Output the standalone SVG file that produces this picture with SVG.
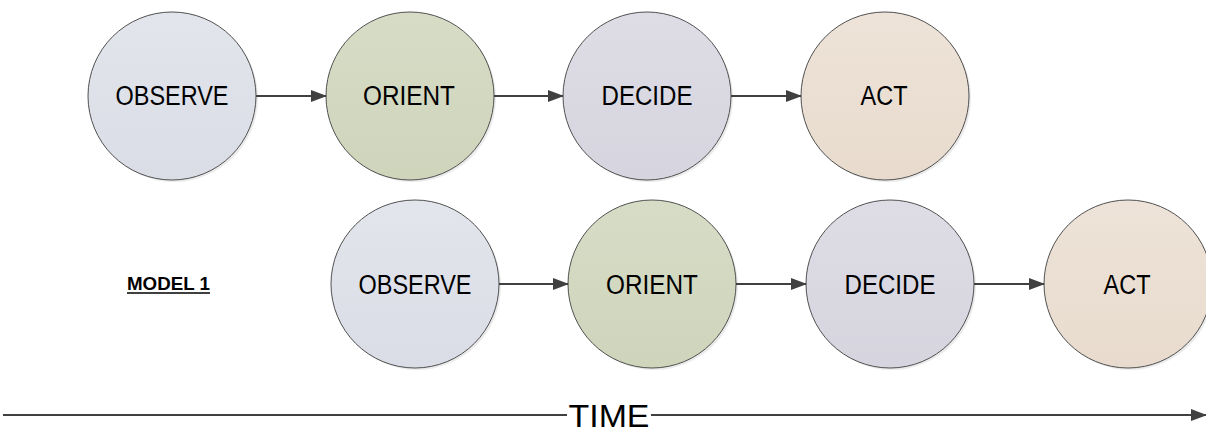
<svg xmlns="http://www.w3.org/2000/svg" width="1206" height="430" viewBox="0 0 1206 430">
  <defs>
    <linearGradient id="gObs" x1="0" y1="0" x2="0" y2="1">
      <stop offset="0" stop-color="#e3e5ec"/>
      <stop offset="1" stop-color="#dadde6"/>
    </linearGradient>
    <linearGradient id="gOri" x1="0" y1="0" x2="0" y2="1">
      <stop offset="0" stop-color="#d7dcc6"/>
      <stop offset="1" stop-color="#cfd5bb"/>
    </linearGradient>
    <linearGradient id="gDec" x1="0" y1="0" x2="0" y2="1">
      <stop offset="0" stop-color="#dedde6"/>
      <stop offset="1" stop-color="#d6d5df"/>
    </linearGradient>
    <linearGradient id="gAct" x1="0" y1="0" x2="0" y2="1">
      <stop offset="0" stop-color="#eee3d8"/>
      <stop offset="1" stop-color="#e8dbce"/>
    </linearGradient>
    <marker id="arrow" viewBox="0 0 16 12" refX="15" refY="6" markerWidth="16" markerHeight="12" markerUnits="userSpaceOnUse" orient="auto">
      <path d="M0,0 L16,6 L0,12 Z" fill="#404040"/>
    </marker>
  </defs>
  <style>
    .shadow { fill: #000; opacity: 0.08; }
    .circle { stroke: #505050; stroke-width: 1; }
    .label { font-family: "Liberation Sans", Arial, sans-serif; font-size: 27px; fill: #000; text-anchor: middle; }
    .conn { stroke: #404040; stroke-width: 2; fill: none; }
    .model { font-family: "Liberation Sans", Arial, sans-serif; font-size: 19px; font-weight: bold; fill: #000; }
    .time { font-family: "Liberation Sans", Arial, sans-serif; font-size: 31px; fill: #000; text-anchor: middle; }
  </style>

  <rect width="1206" height="430" fill="#ffffff"/>

  <!-- upper sequence -->
  <g id="observe1">
    <circle class="shadow" cx="174" cy="98" r="84"/>
    <circle class="circle" cx="172" cy="96" r="84" fill="url(#gObs)"/>
    <text class="label" x="172" y="105" textLength="113" lengthAdjust="spacingAndGlyphs">OBSERVE</text>
  </g>
  <g id="orient1">
    <circle class="shadow" cx="412" cy="98" r="84"/>
    <circle class="circle" cx="410" cy="96" r="84" fill="url(#gOri)"/>
    <text class="label" x="409" y="105" textLength="92" lengthAdjust="spacingAndGlyphs">ORIENT</text>
  </g>
  <g id="decide1">
    <circle class="shadow" cx="649" cy="98" r="84"/>
    <circle class="circle" cx="647" cy="96" r="84" fill="url(#gDec)"/>
    <text class="label" x="647" y="105" textLength="91" lengthAdjust="spacingAndGlyphs">DECIDE</text>
  </g>
  <g id="act1">
    <circle class="shadow" cx="887" cy="98" r="84"/>
    <circle class="circle" cx="885" cy="96" r="84" fill="url(#gAct)"/>
    <text class="label" x="884" y="105" textLength="47" lengthAdjust="spacingAndGlyphs">ACT</text>
  </g>

  <!-- lower sequence -->
  <g id="model1-label">
    <text class="model" x="127" y="290" textLength="83" lengthAdjust="spacingAndGlyphs">MODEL 1</text>
    <line x1="127" y1="293" x2="210" y2="293" stroke="#000" stroke-width="1.5"/>
  </g>
  <g id="observe2">
    <circle class="shadow" cx="417" cy="286" r="84"/>
    <circle class="circle" cx="415" cy="284" r="84" fill="url(#gObs)"/>
    <text class="label" x="415" y="294" textLength="113" lengthAdjust="spacingAndGlyphs">OBSERVE</text>
  </g>
  <g id="orient2">
    <circle class="shadow" cx="654" cy="286" r="84"/>
    <circle class="circle" cx="652" cy="284" r="84" fill="url(#gOri)"/>
    <text class="label" x="652" y="294" textLength="92" lengthAdjust="spacingAndGlyphs">ORIENT</text>
  </g>
  <g id="decide2">
    <circle class="shadow" cx="892" cy="286" r="84"/>
    <circle class="circle" cx="890" cy="284" r="84" fill="url(#gDec)"/>
    <text class="label" x="890" y="294" textLength="91" lengthAdjust="spacingAndGlyphs">DECIDE</text>
  </g>
  <g id="act2">
    <circle class="shadow" cx="1130" cy="286" r="84"/>
    <circle class="circle" cx="1128" cy="284" r="84" fill="url(#gAct)"/>
    <text class="label" x="1127" y="294" textLength="47" lengthAdjust="spacingAndGlyphs">ACT</text>
  </g>

  <!-- time axis -->
  <g id="time-axis">
    <text class="time" x="609" y="427" textLength="81" lengthAdjust="spacingAndGlyphs">TIME</text>
  </g>

  <!-- connectors -->
  <g id="connectors">
    <line class="conn" x1="256" y1="96" x2="326" y2="96" marker-end="url(#arrow)"/>
    <line class="conn" x1="494" y1="96" x2="563" y2="96" marker-end="url(#arrow)"/>
    <line class="conn" x1="731" y1="96" x2="801" y2="96" marker-end="url(#arrow)"/>
    <line class="conn" x1="499" y1="284" x2="568" y2="284" marker-end="url(#arrow)"/>
    <line class="conn" x1="736" y1="284" x2="806" y2="284" marker-end="url(#arrow)"/>
    <line class="conn" x1="974" y1="284" x2="1044" y2="284" marker-end="url(#arrow)"/>
    <line class="conn" x1="3" y1="415" x2="567" y2="415"/>
    <line class="conn" x1="651" y1="415" x2="1206" y2="415" marker-end="url(#arrow)"/>
  </g>
</svg>
